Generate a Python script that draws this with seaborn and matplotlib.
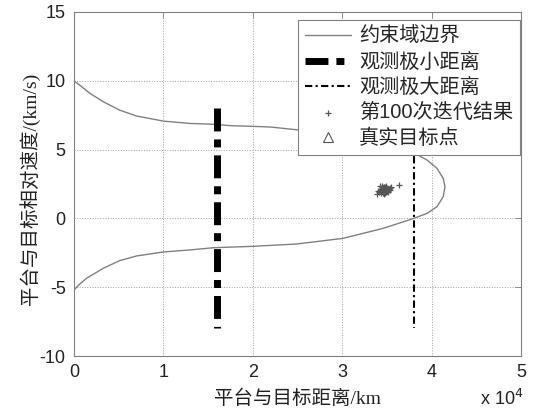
import matplotlib
matplotlib.use("Agg")
import matplotlib.pyplot as plt
import seaborn as sns
import pandas as pd
from matplotlib.ticker import FuncFormatter

# ---------------- data ----------------
# constraint-domain boundary, traced from upper-left, round the nose, to lower-left
bound_x = [0, 900, 1800, 3300, 5100, 7000, 10000, 13000, 15600, 17500, 20000, 22000,
           24900, 30000, 34500, 37800, 39500, 40600, 41300, 41500, 41300, 40600,
           39500, 38000, 34600, 30100, 24900, 20000, 15600, 13000, 10000, 7000,
           5100, 3300, 1400, 600, 0]
bound_y = [10.0, 9.55, 9.08, 8.47, 7.87, 7.44, 7.07, 6.90, 6.84, 6.74, 6.69, 6.64,
           6.44, 6.05, 5.35, 4.84, 4.24, 3.64, 2.91, 2.30, 1.58, 0.85,
           0.37, 0.0, -0.72, -1.45, -1.86, -2.03, -2.13, -2.29, -2.44, -2.73,
           -3.07, -3.62, -4.35, -4.8, -5.2]

# observation minimum / maximum distance lines
min_dist_x = [16000, 16000]
min_dist_y = [8, -8]
max_dist_x = [38000, 38000]
max_dist_y = [8, -8]

# estimates after the 100th iteration
est_x = [34700, 34500, 34900, 34600, 34800, 34400, 35000, 34300, 35100, 34650,
         34750, 34550, 34850, 34450, 34950, 34200, 35200, 34100, 35300, 34700,
         34600, 34800, 34500, 34900, 34350, 35050, 34000, 35400, 34750, 34650,
         33900, 35500, 34250, 35150, 34700, 34550, 34850, 36400]
est_y = [2.10, 2.15, 2.05, 2.20, 2.00, 2.08, 2.18, 2.12, 2.02, 1.95,
         2.25, 1.98, 2.22, 2.28, 1.92, 2.05, 2.15, 1.90, 2.10, 2.30,
         1.88, 1.85, 2.32, 2.35, 1.82, 1.98, 2.00, 2.20, 2.12, 2.05,
         1.80, 2.25, 2.38, 1.90, 1.78, 2.18, 2.08, 2.42]

# true target
true_x = [34700]
true_y = [2.1]

xticks = [0, 10000, 20000, 30000, 40000, 50000]
yticks = [-10, -5, 0, 5, 10, 15]

# ---------------- plotting ----------------
sns.set_theme(style="white")
plt.rcParams['font.family'] = ['Liberation Sans', 'Noto Sans CJK SC', 'DejaVu Sans']
plt.rcParams['axes.unicode_minus'] = False

fig = plt.figure(figsize=(5.37, 4.12), dpi=100)
fig.patch.set_facecolor('white')
ax = fig.add_axes([0.1378, 0.1359, 0.8324, 0.835])

df_b = pd.DataFrame({'x': bound_x, 'y': bound_y})
sns.lineplot(data=df_b, x='x', y='y', sort=False, estimator=None, ax=ax,
             color='#808080', lw=1.0, label='约束域边界', zorder=3)

ax.plot(min_dist_x, min_dist_y, color='black', lw=5, solid_capstyle='butt',
        dash_capstyle='butt', dashes=(3.3, 1.15, 1.15, 1.15), label='观测极小距离', zorder=4)
ax.plot(max_dist_x, max_dist_y, color='black', lw=1.5, dash_capstyle='butt',
        dashes=(3.5, 1.6, 1.0, 1.6), label='观测极大距离', zorder=4)

sns.scatterplot(x=true_x, y=true_y, marker='^', s=40, facecolor='none',
                edgecolor='#555555', linewidth=0.8, ax=ax, zorder=4, label='_nolegend_')
sns.scatterplot(x=est_x, y=est_y, marker='+', s=22, color='#555555',
                linewidth=0.9, ax=ax, zorder=5, label='第100次迭代结果')
# legend proxy for the true target
ax.plot([], [], ls='none', marker='^', markersize=7, markerfacecolor='none',
        markeredgecolor='#555555', markeredgewidth=0.8, label='真实目标点')

ax.set_xlim(0, 50000)
ax.set_ylim(-10, 15)
ax.set_xticks(xticks)
ax.set_yticks(yticks)
ax.xaxis.set_major_formatter(FuncFormatter(lambda v, p: f"{v/1e4:g}"))
ax.tick_params(direction='in', length=4, width=0.6, color='#808080',
               top=True, right=True, labelsize=13, pad=6)
for lab in ax.get_xticklabels() + ax.get_yticklabels():
    lab.set_color('#222222')
ax.grid(True, ls=':', color='#a0a0a0', lw=0.7)
for sp in ax.spines.values():
    sp.set_color('#808080')
    sp.set_linewidth(0.8)

lab_font = ['Liberation Serif', 'Noto Sans CJK SC']
ax.set_xlabel('平台与目标距离/km', fontsize=14, family=lab_font, color='#222222', labelpad=6)
ax.set_ylabel('平台与目标相对速度/(km/s)', fontsize=14, family=lab_font, color='#222222')
ax.yaxis.set_label_coords(-0.077, 0.485)

fig.text(523 / 537, 3 / 412, r'x 10$^4$', ha='right', va='bottom',
         fontsize=13, color='#222222')

handles, labels = ax.get_legend_handles_labels()
order = ['约束域边界', '观测极小距离', '观测极大距离', '第100次迭代结果', '真实目标点']
hd = {l: h for h, l in zip(handles, labels)}
leg = ax.legend([hd[o] for o in order], order, loc='upper right',
                bbox_to_anchor=(0.998, 0.977), borderaxespad=0, fancybox=False,
                framealpha=1, edgecolor='#808080', handlelength=2.3,
                labelspacing=0.32, handletextpad=0.4, borderpad=0.35,
                prop={'family': ['Liberation Sans', 'Noto Sans CJK SC'], 'size': 14.5})
leg.get_frame().set_linewidth(0.8)
leg.set_zorder(10)

fig.savefig('out.png', dpi=100, facecolor='white')
